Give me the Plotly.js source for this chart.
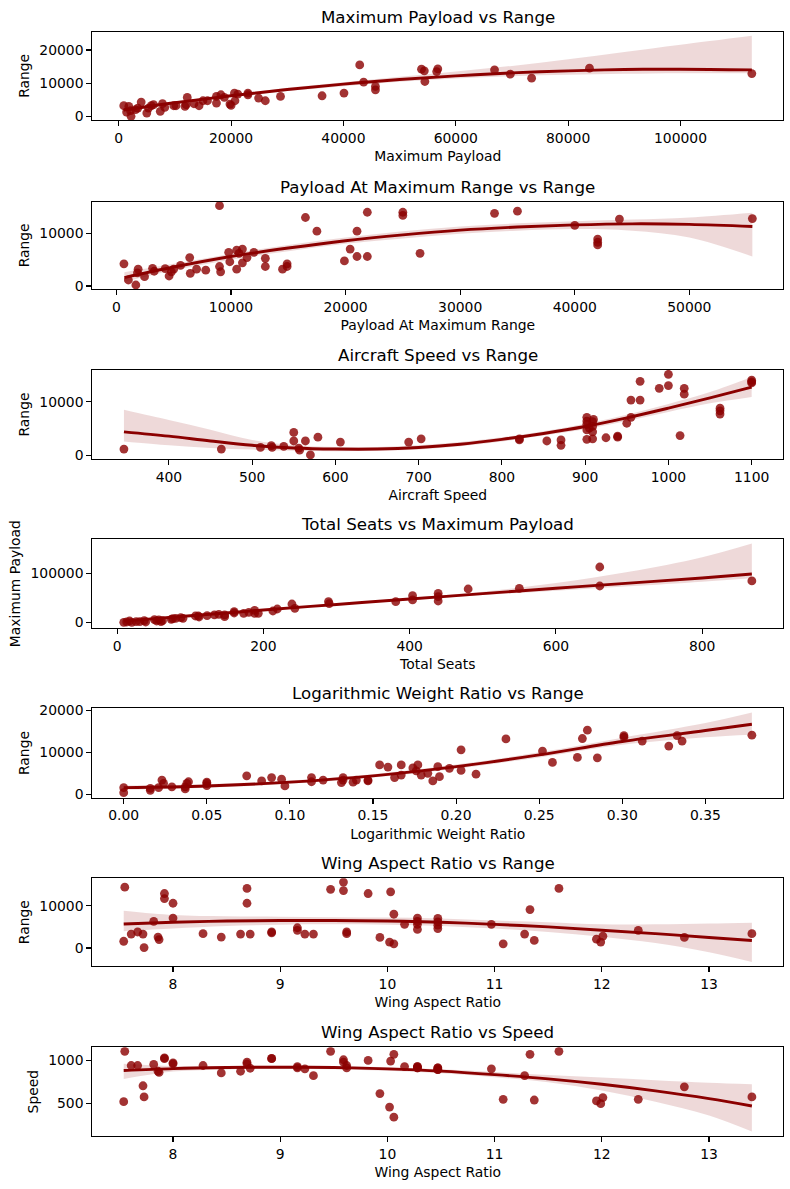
<!DOCTYPE html>
<html>
<head>
<meta charset="utf-8">
<script src="https://cdn.plot.ly/plotly-3.0.1.min.js"></script>
<style>
  html, body { margin: 0; padding: 0; background: #ffffff; }
  #plot { width: 790px; height: 1189px; }
</style>
</head>
<body>
<div id="plot"></div>
<script>
// --- 1. Maximum Payload vs Range
const maxPayload = [900, 1800, 1400, 2200, 2100, 3000, 4000, 3400, 5000, 5300, 5800, 6200, 7400, 7800, 8200, 9800, 10200, 11800, 12200, 12000, 13400, 14300, 15000, 15800, 17400, 17400, 18200, 18800, 19800, 20000, 20600, 20700, 21200, 23000, 23000, 24900, 26100, 28800, 36200, 40100, 42900, 43600, 45700, 45700, 53900, 54400, 54500, 56600, 56800, 66900, 69700, 73500, 83800, 112700];
const rangeByPayload = [3200, 3000, 1300, 0, 1700, 2000, 4300, 2500, 1000, 2500, 3200, 3500, 1500, 3800, 2700, 3200, 3200, 3000, 5700, 3500, 3800, 3200, 4700, 4700, 6000, 4000, 6500, 5700, 3700, 3300, 7000, 4700, 6700, 7000, 6500, 5500, 4700, 6000, 6200, 7000, 15500, 10300, 9000, 8000, 14200, 13700, 10500, 13500, 14300, 14000, 12700, 11500, 14500, 12900];
const fitPayloadX = [900, 10000, 20000, 30000, 40000, 50000, 60000, 70000, 80000, 90000, 100000, 112700];
const fitPayloadY = [1900, 4100, 6200, 8100, 9700, 11100, 12200, 13100, 13700, 14100, 14200, 14000];
const fitPayloadHi = [2500, 4500, 6600, 8600, 10300, 11900, 13500, 15200, 17200, 19400, 21600, 24300];
const fitPayloadLo = [1300, 3700, 5800, 7600, 9100, 10400, 11400, 12100, 12500, 12800, 13000, 13000];

// --- 2. Payload At Maximum Range vs Range
const payloadAtMaxRange = [660, 1050, 1700, 1840, 1900, 2460, 3160, 3300, 4260, 4600, 4800, 5000, 5600, 6400, 6450, 7000, 7800, 9000, 9000, 9100, 9800, 9900, 10500, 10500, 10700, 11000, 11000, 11400, 12000, 13000, 13000, 14500, 14900, 14900, 16500, 17500, 19900, 20400, 21000, 21000, 21900, 21900, 25000, 25000, 26500, 33000, 35000, 40000, 42000, 42000, 42000, 43900, 55500];
const rangeByPamr = [4200, 1140, 190, 2500, 3200, 1770, 3350, 2800, 3300, 1900, 2700, 3200, 3900, 5400, 2400, 3200, 3000, 15250, 3700, 2700, 6400, 4600, 6800, 3200, 6200, 7000, 4400, 5400, 6400, 5250, 3700, 3200, 4200, 3700, 13000, 10400, 4750, 7000, 10400, 5600, 14000, 5600, 14000, 13400, 6200, 13800, 14200, 11500, 8900, 8300, 7800, 12700, 12800];
const fitPamrX = [700, 5000, 10000, 15000, 20000, 25000, 30000, 35000, 40000, 45000, 50000, 55500];
const fitPamrY = [1600, 3600, 5600, 7200, 8600, 9700, 10600, 11200, 11600, 11800, 11700, 11300];
const fitPamrHi = [2600, 4200, 6100, 7800, 9200, 10400, 11300, 11900, 12300, 12600, 13000, 13900];
const fitPamrLo = [800, 3000, 5000, 6600, 8000, 9000, 9900, 10500, 10800, 10500, 9200, 5600];

// --- 3. Aircraft Speed vs Range
const aircraftSpeed = [346, 463, 510, 523, 524, 538, 550, 550, 556, 557, 564, 570, 579, 606, 688, 703, 821, 821, 854, 871, 871, 902, 902, 902, 902, 902, 909, 909, 909, 909, 910, 905, 925, 939, 939, 950, 955, 955, 966, 966, 989, 1000, 1000, 1019, 1019, 1014, 1062, 1062, 1062, 1100, 1100, 1100];
const rangeBySpeed = [1200, 1200, 1500, 1850, 1500, 1700, 4300, 2700, 1360, 1000, 2700, 100, 3400, 2500, 2500, 3100, 3100, 2900, 2700, 2900, 1900, 7100, 6400, 5800, 4750, 3000, 6300, 5400, 4400, 3100, 6700, 5100, 3300, 3400, 3600, 6000, 7100, 10300, 10300, 13800, 12500, 13000, 15100, 11400, 12500, 3700, 8800, 8300, 7700, 14000, 13700, 13500];
const fitSpeedX = [346, 400, 450, 500, 550, 600, 650, 700, 750, 800, 850, 900, 950, 1000, 1050, 1100];
const fitSpeedY = [4400, 3600, 2700, 1900, 1400, 1200, 1200, 1500, 2100, 3000, 4100, 5400, 7000, 8800, 10700, 12700];
const fitSpeedHi = [8500, 6600, 4800, 2900, 1900, 1600, 1600, 1900, 2500, 3400, 4500, 5900, 7600, 9600, 11800, 14600];
const fitSpeedLo = [2600, 1900, 1400, 1100, 900, 800, 900, 1100, 1700, 2600, 3700, 4900, 6400, 8100, 9700, 10900];

// --- 4. Total Seats vs Maximum Payload
const totalSeats = [9, 13, 17, 20, 26, 31, 37, 39, 51, 54, 57, 60, 62, 74, 76, 80, 87, 90, 107, 111, 112, 123, 133, 139, 147, 147, 160, 160, 173, 180, 188, 188, 193, 213, 219, 239, 243, 289, 290, 381, 404, 404, 439, 439, 439, 480, 550, 660, 660, 868];
const payloadBySeats = [0, 700, 2700, 0, 1400, 1400, 3400, 700, 5400, 2700, 4800, 1400, 3400, 6100, 7500, 8200, 9500, 8200, 12900, 12900, 10900, 13600, 15000, 16300, 15000, 11600, 21800, 19000, 18400, 20400, 24500, 18400, 18400, 23100, 27200, 37400, 28600, 42200, 38100, 42200, 54400, 45600, 59200, 52400, 43500, 68000, 69400, 112900, 74100, 84400];
const fitSeatsX = [9, 100, 200, 300, 400, 500, 600, 700, 800, 868];
const fitSeatsY = [2500, 13500, 25000, 36500, 47500, 58500, 69500, 80000, 90500, 98500];
const fitSeatsHi = [4000, 15000, 26500, 38000, 49500, 62500, 80000, 103000, 133000, 161000];
const fitSeatsLo = [1000, 12000, 23500, 35000, 45500, 55500, 64500, 73500, 83000, 90000];

// --- 5. Logarithmic Weight Ratio vs Range
const logWeightRatio = [0, 0, 0.016, 0.016, 0.021, 0.023, 0.024, 0.029, 0.037, 0.037, 0.038, 0.039, 0.050, 0.050, 0.050, 0.074, 0.083, 0.089, 0.095, 0.097, 0.113, 0.113, 0.120, 0.131, 0.132, 0.132, 0.138, 0.140, 0.147, 0.147, 0.154, 0.159, 0.163, 0.167, 0.167, 0.174, 0.176, 0.177, 0.179, 0.183, 0.186, 0.189, 0.190, 0.196, 0.203, 0.203, 0.212, 0.230, 0.252, 0.258, 0.273, 0.276, 0.279, 0.285, 0.301, 0.301, 0.312, 0.328, 0.333, 0.336, 0.378];
const rangeByRatio = [1600, 400, 1400, 950, 1600, 3400, 2600, 1800, 1800, 1300, 2600, 3000, 2900, 2100, 2600, 4400, 3200, 4000, 3600, 2000, 4000, 3000, 3400, 2800, 3400, 4000, 2900, 3400, 3400, 3200, 7000, 6500, 4000, 7000, 4600, 6300, 5600, 7000, 4600, 5000, 3200, 6600, 4200, 6200, 10600, 5700, 4800, 13200, 10300, 7600, 8800, 13300, 15300, 8700, 14000, 13600, 12700, 11500, 14000, 12700, 14100];
const fitRatioX = [0, 0.05, 0.1, 0.15, 0.2, 0.25, 0.3, 0.35, 0.378];
const fitRatioY = [1600, 2000, 2900, 4400, 6600, 9400, 12600, 15200, 16700];
const fitRatioHi = [2100, 2400, 3300, 4800, 7100, 10000, 13500, 17000, 19500];
const fitRatioLo = [1100, 1600, 2500, 4000, 6100, 8800, 11800, 13600, 14200];

// --- 6 & 7. Wing Aspect Ratio vs Range / Speed
const wingAspect = [7.54, 7.55, 7.61, 7.67, 7.72, 7.73, 7.82, 7.86, 7.87, 7.92, 7.92, 8.0, 8.0, 8.28, 8.45, 8.63, 8.69, 8.69, 8.72, 8.92, 8.92, 9.16, 9.16, 9.23, 9.31, 9.47, 9.59, 9.59, 9.62, 9.62, 9.82, 9.93, 10.02, 10.03, 10.06, 10.06, 10.16, 10.28, 10.28, 10.28, 10.28, 10.47, 10.47, 10.47, 10.47, 10.97, 11.08, 11.28, 11.33, 11.37, 11.6, 11.95, 11.99, 12.01, 12.34, 12.77, 13.4];
const rangeByAspect = [1600, 14400, 3300, 3800, 3300, 100, 6300, 2600, 2000, 12900, 11700, 10600, 7100, 3400, 2600, 3300, 14100, 10600, 3300, 3800, 3600, 4800, 4200, 3300, 3300, 13900, 15600, 13600, 3800, 3400, 12900, 2500, 1400, 13300, 8000, 1000, 5600, 7100, 6300, 5600, 4400, 7000, 6200, 5400, 4600, 5600, 1000, 3300, 9100, 1800, 14100, 2100, 1400, 2800, 4200, 2500, 3400];
const speedByAspect = [520, 1106, 941, 941, 705, 575, 953, 874, 860, 1031, 1020, 972, 961, 941, 854, 874, 980, 961, 909, 1020, 1024, 929, 913, 902, 823, 1106, 1008, 980, 913, 941, 1000, 614, 457, 992, 1071, 339, 929, 929, 913, 929, 913, 913, 894, 913, 894, 902, 547, 823, 1071, 539, 1106, 528, 496, 567, 547, 693, 575];
const fitAspectX = [7.54, 8, 8.5, 9, 9.5, 10, 10.5, 11, 11.5, 12, 12.5, 13, 13.4];
const fitAspectRangeY = [5700, 6100, 6400, 6500, 6500, 6400, 6100, 5600, 5000, 4200, 3400, 2500, 1800];
const fitAspectRangeHi = [8800, 7800, 7500, 7400, 7300, 7200, 7000, 6500, 6100, 5600, 5600, 5800, 6000];
const fitAspectRangeLo = [4000, 4600, 5200, 5500, 5600, 5500, 5200, 4600, 3800, 2700, 1200, -1000, -3300];
const fitAspectSpeedY = [882, 905, 917, 921, 917, 902, 876, 835, 785, 722, 645, 555, 470];
const fitAspectSpeedHi = [961, 935, 935, 938, 935, 922, 898, 865, 830, 800, 770, 740, 724];
const fitAspectSpeedLo = [783, 870, 895, 904, 898, 880, 852, 805, 745, 650, 520, 360, 173];

const panels = [
  { title: "Maximum Payload vs Range", xlab: "Maximum Payload", ylab: "Range",
    x: maxPayload, y: rangeByPayload, fx: fitPayloadX, fy: fitPayloadY, hi: fitPayloadHi, lo: fitPayloadLo,
    xr: [-4700, 118300], yr: [-1100, 25500], dx: 20000, dy: 10000, top: 31.7, bot: 120 },
  { title: "Payload At Maximum Range vs Range", xlab: "Payload At Maximum Range", ylab: "Range",
    x: payloadAtMaxRange, y: rangeByPamr, fx: fitPamrX, fy: fitPamrY, hi: fitPamrHi, lo: fitPamrLo,
    xr: [-2100, 58200], yr: [-570, 16000], dx: 10000, dy: 10000, top: 201.7, bot: 289 },
  { title: "Aircraft Speed vs Range", xlab: "Aircraft Speed", ylab: "Range",
    x: aircraftSpeed, y: rangeBySpeed, fx: fitSpeedX, fy: fitSpeedY, hi: fitSpeedHi, lo: fitSpeedLo,
    xr: [308, 1138], yr: [-650, 15900], dx: 100, dy: 10000, top: 370, bot: 459 },
  { title: "Total Seats vs Maximum Payload", xlab: "Total Seats", ylab: "Maximum Payload",
    x: totalSeats, y: payloadBySeats, fx: fitSeatsX, fy: fitSeatsY, hi: fitSeatsHi, lo: fitSeatsLo,
    xr: [-34, 911], yr: [-12200, 170000], dx: 200, dy: 100000, top: 539, bot: 628.3 },
  { title: "Logarithmic Weight Ratio vs Range", xlab: "Logarithmic Weight Ratio", ylab: "Range",
    x: logWeightRatio, y: rangeByRatio, fx: fitRatioX, fy: fitRatioY, hi: fitRatioHi, lo: fitRatioLo,
    xr: [-0.0189, 0.3969], yr: [-800, 20500], dx: 0.05, dy: 10000, fmt: ".2f", top: 708.3, bot: 797.7 },
  { title: "Wing Aspect Ratio vs Range", xlab: "Wing Aspect Ratio", ylab: "Range",
    x: wingAspect, y: rangeByAspect, fx: fitAspectX, fy: fitAspectRangeY, hi: fitAspectRangeHi, lo: fitAspectRangeLo,
    xr: [7.247, 13.693], yr: [-4250, 16500], dx: 1, dy: 10000, top: 878.3, bot: 966 },
  { title: "Wing Aspect Ratio vs Speed", xlab: "Wing Aspect Ratio", ylab: "Speed",
    x: wingAspect, y: speedByAspect, fx: fitAspectX, fy: fitAspectSpeedY, hi: fitAspectSpeedHi, lo: fitAspectSpeedLo,
    xr: [7.247, 13.693], yr: [120, 1153], dx: 1, dy: 500, top: 1047.3, bot: 1136 },
];

const W = 790, H = 1189;
const LEFT = 92.3, RIGHT = 783.3;
const RED = "#8b0000";
const FONT = "DejaVu Sans, sans-serif";

const traces = [];
const layout = {
  width: W, height: H,
  margin: { l: 0, r: 0, t: 0, b: 0 },
  paper_bgcolor: "#ffffff",
  plot_bgcolor: "#ffffff",
  showlegend: false,
  font: { family: FONT, size: 13.9, color: "#000000" },
  annotations: [],
};

panels.forEach((p, i) => {
  const n = i === 0 ? "" : String(i + 1);
  const xa = "x" + n, ya = "y" + n;
  const yDom = [1 - p.bot / H, 1 - p.top / H];

  // confidence band: lower edge, then upper edge filled down to it
  traces.push({ x: p.fx, y: p.lo, xaxis: xa, yaxis: ya, mode: "lines",
    line: { width: 0, shape: "spline", color: "rgba(139,0,0,0)" }, hoverinfo: "skip" });
  traces.push({ x: p.fx, y: p.hi, xaxis: xa, yaxis: ya, mode: "lines", fill: "tonexty",
    fillcolor: "rgba(139,0,0,0.15)", line: { width: 0, shape: "spline", color: "rgba(139,0,0,0)" }, hoverinfo: "skip" });
  traces.push({ x: p.x, y: p.y, xaxis: xa, yaxis: ya, mode: "markers", type: "scatter",
    marker: { size: 8.8, color: RED, opacity: 0.8, line: { width: 0 } } });
  traces.push({ x: p.fx, y: p.fy, xaxis: xa, yaxis: ya, mode: "lines",
    line: { width: 2.9, color: RED, shape: "spline" } });

  const common = {
    showline: true, mirror: true, linecolor: "#000000", linewidth: 1.1,
    ticks: "outside", ticklen: 4.9, tickwidth: 1.1, tickcolor: "#000000",
    showgrid: false, zeroline: false, automargin: false,
    tickfont: { family: FONT, size: 13.9, color: "#000000" },
  };
  layout["xaxis" + n] = Object.assign({}, common, {
    domain: [LEFT / W, RIGHT / W], anchor: ya, range: p.xr,
    tick0: 0, dtick: p.dx, tickformat: p.fmt || "d",
    title: { text: p.xlab, font: { family: FONT, size: 13.9, color: "#000000" }, standoff: 6 },
  });
  layout["yaxis" + n] = Object.assign({}, common, {
    domain: yDom, anchor: xa, range: p.yr,
    tick0: 0, dtick: p.dy, tickformat: "d",
    title: { text: p.ylab, font: { family: FONT, size: 13.9, color: "#000000" }, standoff: 6 },
  });
  layout.annotations.push({
    text: p.title, xref: "paper", yref: "paper",
    x: (LEFT + RIGHT) / 2 / W, y: yDom[1], xanchor: "center", yanchor: "bottom",
    yshift: 3, showarrow: false,
    font: { family: FONT, size: 16.67, color: "#000000" },
  });
});

Plotly.newPlot("plot", traces, layout, { displayModeBar: false, staticPlot: true });
</script>
</body>
</html>
